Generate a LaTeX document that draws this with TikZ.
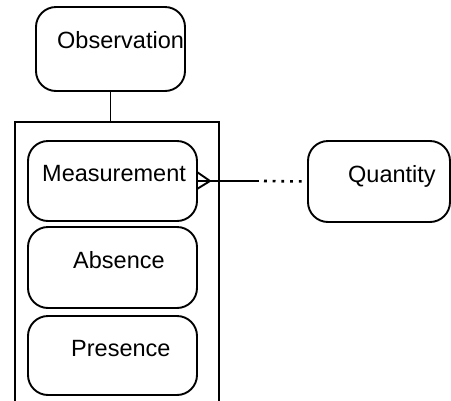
\documentclass[tikz,border=0pt]{standalone}
\usepackage{fontspec}
\setmainfont{Liberation Sans}
\begin{document}
\begin{tikzpicture}[x=1pt,y=-1pt,
  box/.style={draw, line width=1.9pt, rounded corners=20pt, inner sep=0pt},
  lbl/.style={anchor=base west, inner sep=0pt, font=\fontsize{23.5}{26}\selectfont},
  ln/.style={line width=1.9pt}]
\useasboundingbox (0,0) rectangle (451,400);
% boxes
\node[box, minimum width=149pt, minimum height=84pt] (obs) at (110.5,49) {};
\node[box, minimum width=169pt, minimum height=80pt] (meas) at (112.5,181) {};
\node[box, minimum width=169pt, minimum height=81pt] (abs) at (112.5,267.5) {};
\node[box, minimum width=169pt, minimum height=79pt] (pres) at (112.5,355.5) {};
\node[box, minimum width=142pt, minimum height=81pt] (qty) at (379,181.5) {};
% labels
\node[lbl] (tobs) at (57,48) {Observation};
\node[lbl] (tmeas) at (42,181) {Measurement};
\node[lbl] (tabs) at (73,268) {Absence};
\node[lbl] (tpres) at (71,356) {Presence};
\node[lbl] (tqty) at (348,182) {Quantity};
% container
\coordinate (ctop) at (110.5,122);
\draw[ln] (15,401) -- (15,122) -- (219,122) -- (219,401);
\draw[ln] (obs.south) -- (ctop);
% connector with crow's foot
\coordinate (tip) at (210,181);
\coordinate (cfa) at (197,172);
\coordinate (cfb) at (197,189);
\coordinate (solidend) at (259,181);
\draw[ln] (cfa) -- (tip) -- (cfb);
\draw[ln] (meas.east) -- (tip) -- (solidend);
\draw[line width=2.6pt, dash pattern=on 2.8pt off 5.9pt] (solidend) ++(5,0) -- (qty.west);
\end{tikzpicture}
\end{document}
